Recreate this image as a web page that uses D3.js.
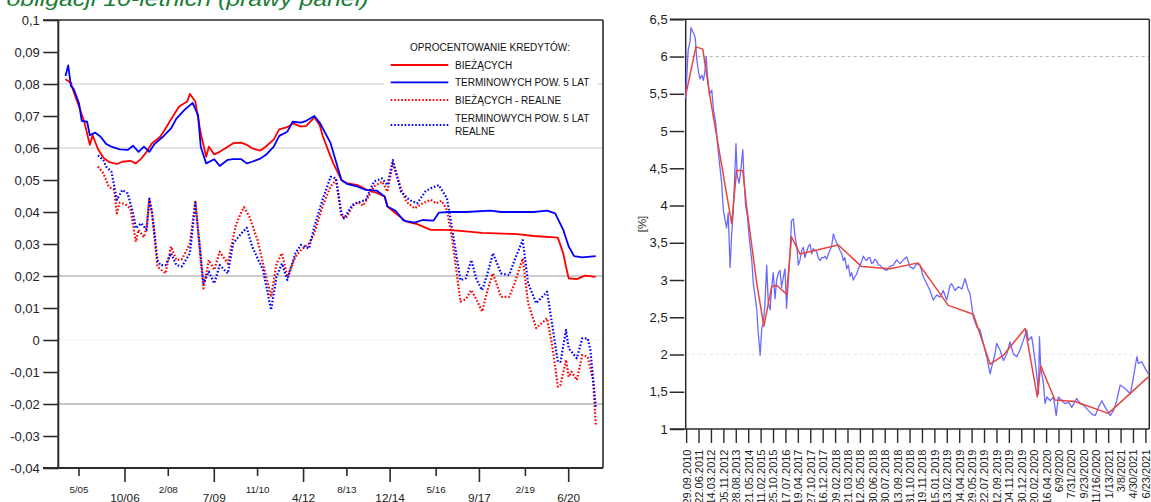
<!DOCTYPE html>
<html>
<head>
<meta charset="utf-8">
<script src="https://cdn.jsdelivr.net/npm/d3@7"></script>
<style>
  html, body { margin: 0; padding: 0; background: #fff; }
  svg { display: block; font-family: "Liberation Sans", Arial, sans-serif; }
</style>
</head>
<body>
<svg id="chart" width="1151" height="502"></svg>
<script>
// ---------- Left panel: loan interest rates (months counted from Jan 2005) ----------
const leftTickLabels = ["5/05", "10/06", "2/08", "7/09", "11/10", "4/12", "8/13", "12/14", "5/16", "9/17", "2/19", "6/20"];
const leftYTicks = [0.1, 0.09, 0.08, 0.07, 0.06, 0.05, 0.04, 0.03, 0.02, 0.01, 0, -0.01, -0.02, -0.03, -0.04];

const currentLoans = [[-1,0.0815],[1,0.0804],[2,0.0776],[4,0.073],[6,0.068],[8,0.061],[9,0.064],[11,0.0597],[13,0.057],[15,0.0557],[18,0.055],[20,0.0557],[23,0.056],[25,0.0552],[27,0.0567],[29,0.0588],[31,0.0615],[34,0.0635],[36,0.0661],[39,0.0703],[41,0.073],[44,0.0745],[45,0.0769],[47,0.0745],[49,0.0646],[51,0.0573],[52,0.0604],[54,0.058],[56,0.0588],[59,0.0604],[61,0.0615],[64,0.0617],[66,0.061],[68,0.0599],[71,0.0592],[73,0.0604],[76,0.0627],[78,0.0658],[81,0.0665],[83,0.0677],[86,0.0667],[88,0.0669],[91,0.0696],[93,0.067],[94,0.064],[96,0.0595],[98,0.0552],[101,0.05],[103,0.049],[107,0.0484],[110,0.0471],[114,0.046],[117,0.0448],[118,0.0417],[121,0.0396],[125,0.037],[129,0.0362],[134,0.0344],[139,0.0344],[144,0.0342],[153,0.0335],[166,0.0331],[172,0.0325],[181,0.032],[183,0.027],[184,0.0229],[185,0.0193],[188,0.019],[191,0.0201],[195,0.0197]];

const termLoans = [[-1,0.0825],[0,0.0858],[1,0.0794],[2,0.0785],[4,0.074],[5,0.0685],[7,0.0682],[8,0.064],[10,0.0648],[12,0.0635],[14,0.0613],[16,0.0604],[19,0.0596],[22,0.0594],[24,0.0607],[26,0.0588],[28,0.0604],[30,0.0588],[32,0.0613],[35,0.0635],[38,0.0661],[40,0.0692],[43,0.0719],[46,0.0741],[48,0.0703],[49,0.0604],[51,0.0552],[54,0.0565],[56,0.0544],[59,0.0563],[61,0.0565],[64,0.0565],[66,0.0552],[68,0.0557],[71,0.0567],[73,0.0578],[76,0.0604],[78,0.0638],[81,0.0651],[83,0.0682],[86,0.0679],[88,0.0685],[91,0.07],[93,0.0679],[97,0.0615],[99,0.0557],[101,0.05],[103,0.0488],[107,0.0479],[110,0.0469],[114,0.0467],[117,0.0448],[118,0.0417],[121,0.0404],[124,0.0373],[128,0.0367],[131,0.0375],[135,0.0373],[137,0.0398],[141,0.04],[147,0.04],[156,0.0404],[160,0.04],[166,0.04],[172,0.04],[177,0.0404],[180,0.0396],[183,0.0344],[185,0.0292],[187,0.0262],[190,0.0258],[195,0.0262]];

const currentLoansReal = [[11,0.0542],[13,0.0521],[15,0.0479],[17,0.0469],[18,0.0396],[19,0.0429],[21,0.0425],[23,0.0411],[25,0.0307],[26,0.0344],[28,0.0321],[29,0.0354],[30,0.0438],[31,0.0396],[33,0.0229],[36,0.0208],[38,0.0292],[40,0.025],[42,0.0252],[45,0.0302],[47,0.0432],[50,0.0161],[52,0.025],[54,0.0219],[56,0.0276],[59,0.0239],[60,0.0281],[62,0.036],[64,0.04],[65,0.0415],[67,0.0385],[70,0.0312],[72,0.0239],[75,0.0135],[77,0.0239],[79,0.0271],[81,0.0198],[84,0.026],[86,0.0281],[89,0.0302],[91,0.0333],[94,0.0417],[97,0.048],[99,0.05],[101,0.0385],[103,0.0385],[105,0.0417],[107,0.0432],[109,0.042],[111,0.0448],[113,0.048],[116,0.0495],[118,0.0464],[120,0.0552],[123,0.0474],[125,0.0432],[128,0.0411],[131,0.0427],[134,0.0438],[136,0.0427],[138,0.0435],[140,0.0406],[142,0.0312],[145,0.012],[147,0.0128],[149,0.0156],[151,0.0125],[153,0.0089],[155,0.0156],[157,0.0208],[160,0.0135],[163,0.0135],[165,0.0177],[168,0.0255],[170,0.0115],[173,0.0037],[177,0.0068],[179,-0.0021],[181,-0.0146],[182,-0.014],[184,-0.0062],[185,-0.0115],[186,-0.0099],[188,-0.0125],[190,-0.0047],[192,-0.0052],[194,-0.0125],[195,-0.0266]];

const termLoansReal = [[11,0.0577],[13,0.0562],[14,0.0542],[16,0.0526],[18,0.0438],[20,0.0469],[22,0.0458],[24,0.0396],[25,0.0349],[27,0.0365],[29,0.0344],[30,0.0442],[31,0.040],[33,0.025],[34,0.0234],[36,0.0234],[38,0.0271],[40,0.0234],[42,0.023],[45,0.0271],[47,0.0429],[50,0.0177],[52,0.0214],[54,0.0177],[56,0.0234],[59,0.0208],[61,0.0302],[64,0.0333],[66,0.0351],[68,0.0292],[72,0.0219],[75,0.0094],[77,0.0198],[79,0.0239],[81,0.0188],[84,0.0271],[86,0.0297],[89,0.0286],[91,0.0354],[94,0.0438],[97,0.051],[99,0.0505],[101,0.0396],[102,0.038],[105,0.0422],[108,0.0432],[110,0.0438],[113,0.0495],[116,0.0505],[118,0.0484],[120,0.0562],[123,0.0464],[126,0.0438],[129,0.0427],[132,0.0464],[134,0.0474],[137,0.0484],[140,0.0443],[142,0.0344],[145,0.0187],[147,0.0193],[149,0.025],[151,0.0187],[153,0.0156],[155,0.0208],[157,0.0271],[160,0.0208],[163,0.0203],[165,0.025],[168,0.0312],[170,0.0177],[173,0.0115],[177,0.0151],[179,0.0042],[181,-0.0068],[182,-0.0068],[184,0.0031],[185,-0.0026],[188,-0.0057],[190,0.0005],[192,0.0005],[193,-0.003],[194,-0.012],[195,-0.0208]];

const legendTitle = "OPROCENTOWANIE KREDYTÓW:";
const legendItems = [
  { lines: ["BIEŻĄCYCH"], color: "#ff0000", dotted: false, data: currentLoans },
  { lines: ["TERMINOWYCH POW. 5 LAT"], color: "#0000ff", dotted: false, data: termLoans },
  { lines: ["BIEŻĄCYCH - REALNE"], color: "#ff0000", dotted: true, data: currentLoansReal },
  { lines: ["TERMINOWYCH POW. 5 LAT", "REALNE"], color: "#0000ff", dotted: true, data: termLoansReal }
];

// ---------- Right panel: 10-year bond yield, by observation number ----------
const rightTickLabels = ["29.09.2010","22.06.2011","14.03.2012","05.11.2012","28.08.2013","21.05.2014","11.02.2015","25.10.2015","17.07.2016","19.04.2017","27.10.2017","16.12.2017","09.02.2018","21.03.2018","12.05.2018","30.06.2018","30.07.2018","13.09.2018","31.10.2018","19.11.2018","15.01.2019","13.02.2019","04.04.2019","29.05.2019","22.07.2019","12.09.2019","04.11.2019","30.12.2019","20.02.2020","16.04.2020","6/9/2020","7/31/2020","9/23/2020","11/16/2020","1/13/2021","3/8/2021","4/30/2021","6/23/2021"];
const rightTickStep = 40;
const rightYTicks = [1, 1.5, 2, 2.5, 3, 3.5, 4, 4.5, 5, 5.5, 6, 6.5];

const bondYield = [[-3,5.44],[5,6.09],[11,6.2],[14,6.39],[20,6.33],[24,6.3],[28,6.24],[33,5.95],[38,5.8],[43,5.7],[49,5.75],[54,5.68],[59,5.8],[63,6.0],[67,5.75],[73,5.5],[81,5.55],[86,5.3],[94,5.1],[99,4.85],[105,4.6],[113,4.3],[118,3.95],[124,3.8],[129,3.7],[134,3.9],[140,3.17],[145,3.6],[150,3.9],[156,4.5],[159,4.83],[163,4.4],[169,4.3],[174,4.45],[181,4.75],[185,4.35],[190,4.0],[196,3.85],[202,3.55],[210,3.26],[215,2.95],[220,2.8],[226,2.6],[231,2.28],[237,1.99],[242,2.35],[247,2.42],[252,2.65],[258,3.2],[263,2.7],[269,2.6],[274,2.9],[279,3.1],[285,2.75],[290,3.0],[296,3.1],[301,3.13],[306,2.9],[312,3.05],[317,3.15],[322,2.62],[328,3.0],[333,3.35],[338,3.8],[344,3.82],[349,3.6],[355,3.45],[360,3.2],[365,3.26],[371,3.4],[376,3.44],[381,3.3],[387,3.38],[392,3.45],[398,3.48],[403,3.35],[408,3.42],[414,3.4],[419,3.38],[424,3.3],[430,3.26],[435,3.3],[441,3.3],[446,3.32],[451,3.28],[457,3.35],[462,3.4],[467,3.45],[473,3.62],[478,3.55],[484,3.5],[489,3.45],[494,3.4],[500,3.35],[505,3.26],[510,3.3],[516,3.15],[521,3.2],[527,3.05],[532,3.1],[537,3.0],[543,3.05],[548,3.08],[553,3.15],[559,3.2],[564,3.25],[569,3.32],[575,3.28],[580,3.26],[586,3.3],[591,3.3],[596,3.22],[602,3.24],[607,3.28],[612,3.26],[618,3.2],[623,3.2],[634,3.15],[645,3.13],[655,3.18],[666,3.2],[677,3.27],[688,3.22],[698,3.27],[709,3.31],[720,3.18],[731,3.15],[741,3.22],[752,3.2],[763,3.04],[774,2.95],[784,2.86],[795,2.73],[806,2.8],[817,2.77],[827,2.86],[838,2.73],[849,2.93],[854,2.95],[865,2.86],[876,2.91],[887,2.88],[897,3.02],[908,2.86],[913,2.82],[924,2.5],[935,2.37],[946,2.33],[956,2.15],[967,1.97],[978,1.74],[983,1.83],[994,2.01],[999,2.15],[1010,2.06],[1021,1.92],[1032,2.01],[1042,2.17],[1053,2.01],[1064,1.97],[1074,2.06],[1085,2.19],[1096,2.33],[1101,2.19],[1112,2.24],[1117,2.1],[1128,1.74],[1134,1.47],[1137,2.24],[1141,1.83],[1150,1.61],[1155,1.34],[1161,1.43],[1171,1.38],[1182,1.43],[1191,1.18],[1198,1.43],[1209,1.38],[1220,1.34],[1231,1.36],[1241,1.29],[1257,1.41],[1268,1.34],[1279,1.32],[1290,1.27],[1306,1.2],[1317,1.18],[1327,1.29],[1338,1.38],[1349,1.29],[1365,1.18],[1376,1.25],[1386,1.38],[1397,1.59],[1408,1.56],[1419,1.52],[1430,1.47],[1440,1.7],[1451,1.97],[1456,1.88],[1467,1.9],[1478,1.81],[1488,1.74]];

const bondYieldTrend = [[-3,5.48],[30,6.13],[52,6.10],[78,5.39],[145,3.76],[161,4.47],[181,4.47],[193,4.0],[226,2.95],[249,2.38],[274,2.91],[290,2.93],[322,2.81],[338,3.58],[365,3.35],[489,3.47],[564,3.18],[655,3.15],[746,3.23],[843,2.66],[924,2.54],[978,1.87],[1021,1.99],[1091,2.35],[1130,1.43],[1141,1.85],[1187,1.39],[1252,1.37],[1359,1.21],[1488,1.70]];

const headingText = "obligacji 10-letnich (prawy panel)";

// ---------- drawing ----------
const svg = d3.select("#chart");
const axisColor = "#2b2b2b";
const fmtComma = d => String(+d.toFixed(2)).replace(".", ",");
const monthOf = lbl => { const [m, y] = lbl.split("/").map(Number); return (2000 + y - 2005) * 12 + (m - 1); };

// heading line cut by the top edge
svg.append("text")
  .attr("x", 6.5).attr("y", 6)
  .attr("font-size", 20).attr("font-style", "italic")
  .attr("fill", "#1c7d37")
  .attr("textLength", 362).attr("lengthAdjust", "spacingAndGlyphs")
  .text(headingText);

// ----- left panel -----
const L = { x0: 58.3, x1: 603, y0: 20, y1: 468 };
const xL = d3.scaleLinear().domain([monthOf("5/05"), monthOf("6/20")]).range([79, 568.7]);
const yL = d3.scaleLinear().domain([-0.04, 0.1]).range([L.y1, L.y0]);

const gL = svg.append("g");
const gridStyle = [
  { v: 0.08, c: "#dcdcdc", w: 1.4 },
  { v: 0.06, c: "#dcdcdc", w: 1.4 },
  { v: 0.02, c: "#9a9a9a", w: 1.2 },
  { v: 0, c: "#f1f1f1", w: 1.2 },
  { v: -0.02, c: "#8e8e8e", w: 1.2 }
];
gL.selectAll("line.grid").data(gridStyle).join("line")
  .attr("x1", L.x0).attr("x2", L.x1)
  .attr("y1", d => yL(d.v)).attr("y2", d => yL(d.v))
  .attr("stroke", d => d.c).attr("stroke-width", d => d.w);

// y axis with ticks
const yAxisL = gL.append("g").attr("transform", `translate(${L.x0},0)`)
  .call(d3.axisLeft(yL).tickValues(leftYTicks).tickSize(15).tickPadding(3.5).tickFormat(fmtComma));
yAxisL.select(".domain").remove();
yAxisL.selectAll(".tick line").attr("stroke", axisColor).attr("stroke-width", 1.6);
yAxisL.selectAll(".tick text").attr("font-size", 13).attr("fill", "#222")
  .attr("font-family", "'Liberation Sans', Arial, sans-serif");

// frame
gL.append("line").attr("x1", 43).attr("x2", L.x1).attr("y1", L.y0).attr("y2", L.y0)
  .attr("stroke", axisColor).attr("stroke-width", 1.6);
gL.append("line").attr("x1", L.x1).attr("x2", L.x1).attr("y1", L.y0).attr("y2", L.y1)
  .attr("stroke", axisColor).attr("stroke-width", 1.6);
gL.append("line").attr("x1", L.x0).attr("x2", L.x0).attr("y1", L.y0).attr("y2", L.y1)
  .attr("stroke", axisColor).attr("stroke-width", 2);
gL.append("line").attr("x1", 43).attr("x2", L.x1).attr("y1", L.y1).attr("y2", L.y1)
  .attr("stroke", axisColor).attr("stroke-width", 2);

// x ticks, alternating short/long
const xTicksL = leftTickLabels.map((lbl, i) => ({ lbl, m: monthOf(lbl), long: i % 2 === 1 }));
gL.selectAll("line.xt").data(xTicksL).join("line")
  .attr("x1", d => xL(d.m)).attr("x2", d => xL(d.m))
  .attr("y1", L.y1).attr("y2", d => d.long ? L.y1 + 14 : L.y1 + 8)
  .attr("stroke", axisColor).attr("stroke-width", 1.6);
gL.selectAll("text.xt").data(xTicksL).join("text")
  .attr("x", d => xL(d.m))
  .attr("y", d => d.long ? 501.7 : 493.3)
  .attr("text-anchor", "middle")
  .attr("font-size", d => d.long ? 11.8 : 9.8)
  .attr("fill", "#222")
  .text(d => d.lbl);

// series
const lineL = d3.line().x(d => xL(d[0])).y(d => yL(d[1]));
const seriesOrder = [legendItems[2], legendItems[3], legendItems[0], legendItems[1]];
gL.selectAll("path.series").data(seriesOrder).join("path")
  .attr("d", d => lineL(d.data))
  .attr("fill", "none")
  .attr("stroke", d => d.color)
  .attr("stroke-width", d => d.dotted ? 2.2 : 1.8)
  .attr("stroke-dasharray", d => d.dotted ? "1.6,1.9" : null)
  .attr("stroke-linejoin", "round");

// legend
const leg = gL.append("g");
leg.append("rect").attr("x", 384).attr("y", 36).attr("width", 214).attr("height", 104).attr("fill", "#fff");
leg.append("text").attr("x", 490).attr("y", 51.3).attr("text-anchor", "middle")
  .attr("font-size", 10).attr("fill", "#111").text(legendTitle);
const legRows = [65, 82.3, 100, 125];
legendItems.forEach((it, i) => {
  const y = legRows[i];
  leg.append("line").attr("x1", 390.7).attr("x2", 448.3).attr("y1", y).attr("y2", y)
    .attr("stroke", it.color).attr("stroke-width", it.dotted ? 2.2 : 1.8)
    .attr("stroke-dasharray", it.dotted ? "1.6,1.9" : null);
  const first = it.lines.length === 1 ? y + 3.6 : y - 3.2;
  it.lines.forEach((t, k) => {
    leg.append("text").attr("x", 455).attr("y", first + k * 13.4)
      .attr("font-size", 10).attr("fill", "#111").text(t);
  });
});

// ----- right panel -----
const R = { x0: 685.7, x1: 1149.3, y0: 19.3, y1: 429 };
const xR = d3.scaleLinear().domain([-3, 1491]).range([R.x0, R.x1]);
const yR = d3.scaleLinear().domain([1, 6.5]).range([R.y1, R.y0]);
const gR = svg.append("g");

gR.append("line").attr("x1", R.x0).attr("x2", R.x1).attr("y1", yR(6)).attr("y2", yR(6))
  .attr("stroke", "#b4b4b4").attr("stroke-width", 1).attr("stroke-dasharray", "3,3");
gR.append("line").attr("x1", R.x0).attr("x2", R.x1).attr("y1", yR(2)).attr("y2", yR(2))
  .attr("stroke", "#e6e6e6").attr("stroke-width", 1).attr("stroke-dasharray", "3,3");

const yAxisR = gR.append("g").attr("transform", `translate(${R.x0 - 1.5},0)`)
  .call(d3.axisLeft(yR).tickValues(rightYTicks).tickSize(14.5).tickPadding(2).tickFormat(fmtComma));
yAxisR.select(".domain").remove();
yAxisR.selectAll(".tick line").attr("stroke", axisColor).attr("stroke-width", 1.5);
yAxisR.selectAll(".tick text").attr("font-size", 13).attr("fill", "#222")
  .attr("font-family", "'Liberation Sans', Arial, sans-serif");

gR.append("line").attr("x1", 670).attr("x2", R.x1).attr("y1", R.y0).attr("y2", R.y0)
  .attr("stroke", axisColor).attr("stroke-width", 1.5);
gR.append("line").attr("x1", R.x1).attr("x2", R.x1).attr("y1", R.y0).attr("y2", R.y1)
  .attr("stroke", axisColor).attr("stroke-width", 1.5);
gR.append("line").attr("x1", R.x0).attr("x2", R.x0).attr("y1", R.y0).attr("y2", R.y1)
  .attr("stroke", axisColor).attr("stroke-width", 1.5);
gR.append("line").attr("x1", 670).attr("x2", R.x1).attr("y1", R.y1).attr("y2", R.y1)
  .attr("stroke", axisColor).attr("stroke-width", 1.5);

const xTicksR = rightTickLabels.map((lbl, i) => ({ lbl, n: i * rightTickStep }));
gR.selectAll("line.xt").data(xTicksR).join("line")
  .attr("x1", d => xR(d.n)).attr("x2", d => xR(d.n))
  .attr("y1", R.y1).attr("y2", R.y1 + 14)
  .attr("stroke", axisColor).attr("stroke-width", 1.4);
gR.selectAll("text.xt").data(xTicksR).join("text")
  .attr("transform", d => `translate(${xR(d.n)},449.5) rotate(-90)`)
  .attr("text-anchor", "end").attr("dy", "0.36em")
  .attr("font-size", 11).attr("fill", "#222")
  .text(d => d.lbl);

gR.append("text").attr("transform", "translate(641.7,224) rotate(-90)")
  .attr("text-anchor", "middle").attr("dy", "0.35em")
  .attr("font-size", 11.5).attr("fill", "#222").text("[%]");

const lineR = d3.line().x(d => xR(d[0])).y(d => yR(d[1]));
gR.append("path").attr("d", lineR(bondYield)).attr("fill", "none")
  .attr("stroke", "#6a6aff").attr("stroke-width", 1.3).attr("stroke-linejoin", "round");
gR.append("path").attr("d", lineR(bondYieldTrend)).attr("fill", "none")
  .attr("stroke", "#e8453c").attr("stroke-width", 1.5).attr("stroke-linejoin", "round");
</script>
</body>
</html>
